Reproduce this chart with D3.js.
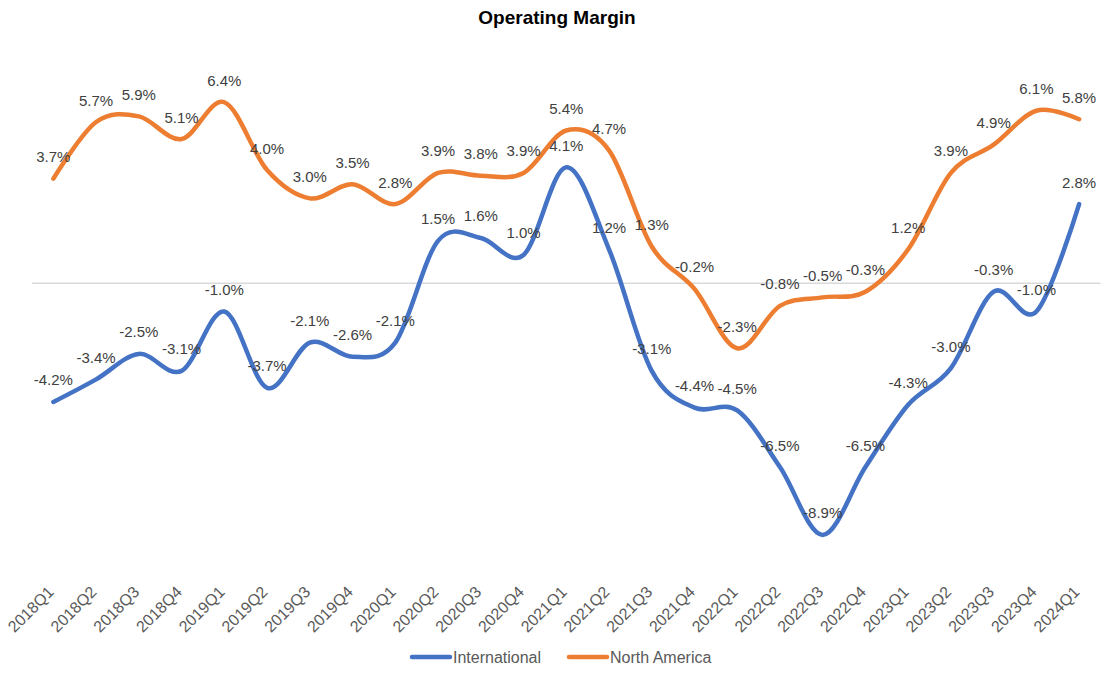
<!DOCTYPE html>
<html>
<head>
<meta charset="utf-8">
<script src="https://cdn.jsdelivr.net/npm/d3@7"></script>
<style>
  html, body { margin: 0; padding: 0; background: #fff; }
  svg { display: block; font-family: Arial, "Liberation Sans", sans-serif; }
</style>
</head>
<body>
<svg id="chart" width="1117" height="673"></svg>
<script>
const categories = ["2018Q1","2018Q2","2018Q3","2018Q4","2019Q1","2019Q2","2019Q3","2019Q4",
  "2020Q1","2020Q2","2020Q3","2020Q4","2021Q1","2021Q2","2021Q3","2021Q4",
  "2022Q1","2022Q2","2022Q3","2022Q4","2023Q1","2023Q2","2023Q3","2023Q4","2024Q1"];
const international = [-4.2,-3.4,-2.5,-3.1,-1.0,-3.7,-2.1,-2.6,-2.1,1.5,1.6,1.0,4.1,1.2,-3.1,-4.4,-4.5,-6.5,-8.9,-6.5,-4.3,-3.0,-0.3,-1.0,2.8];
const northAmerica = [3.7,5.7,5.9,5.1,6.4,4.0,3.0,3.5,2.8,3.9,3.8,3.9,5.4,4.7,1.3,-0.2,-2.3,-0.8,-0.5,-0.3,1.2,3.9,4.9,6.1,5.8];
const seriesNames = ["International", "North America"];
const seriesColors = ["#4472C4", "#ED7D31"];
const yDomain = [-10, 8];

const svg = d3.select("#chart");
const plot = {left: 32, right: 1100.5, top: 57, bottom: 566};

const x = d3.scalePoint().domain(categories).range([plot.left, plot.right]).padding(0.5);
const y = d3.scaleLinear().domain(yDomain).range([plot.bottom, plot.top]);

// title
svg.append("text").attr("x", 557).attr("y", 24).attr("text-anchor", "middle")
  .attr("font-size", 19).attr("font-weight", "bold").attr("fill", "#000").text("Operating Margin");

// zero line
svg.append("line").attr("x1", plot.left).attr("x2", plot.right)
  .attr("y1", y(0)).attr("y2", y(0)).attr("stroke", "#D9D9D9").attr("stroke-width", 1.5);

// category axis labels at bottom
const xAxis = d3.axisBottom(x).tickSize(0).tickPadding(0);
const ax = svg.append("g").attr("transform", `translate(0,${plot.bottom})`).call(xAxis);
ax.select(".domain").remove();
ax.selectAll("text")
  .attr("font-size", 16).attr("fill", "#595959").attr("font-family", "Arial, 'Liberation Sans', sans-serif")
  .attr("text-anchor", "end").attr("dy", null).attr("y", 0)
  .attr("transform", "translate(1,27) rotate(-45)");

const line = d3.line().x((d, i) => x(categories[i])).y(d => y(d)).curve(d3.curveCardinal.tension(0));

const allSeries = [international, northAmerica];
allSeries.forEach((vals, si) => {
  svg.append("path").datum(vals).attr("d", line).attr("fill", "none")
    .attr("stroke", seriesColors[si]).attr("stroke-width", 4.5)
    .attr("stroke-linecap", "round").attr("stroke-linejoin", "round");
});
allSeries.forEach((vals, si) => {
  svg.append("g").selectAll("text").data(vals).join("text")
    .attr("x", (d, i) => x(categories[i]))
    .attr("y", d => y(d) - 16.5)
    .attr("text-anchor", "middle").attr("font-size", 15).attr("fill", "#404040")
    .text(d => d.toFixed(1) + "%");
});

// legend
const legendItems = [{x: 410}, {x: 567}];
legendItems.forEach((it, i) => {
  const g = svg.append("g");
  g.append("line").attr("x1", it.x + 2).attr("x2", it.x + 40).attr("y1", 657).attr("y2", 657)
    .attr("stroke", seriesColors[i]).attr("stroke-width", 4.5).attr("stroke-linecap", "round");
  g.append("text").attr("x", it.x + 43).attr("y", 657).attr("dy", "0.35em")
    .attr("font-size", 16).attr("fill", "#595959").text(seriesNames[i]);
});
</script>
</body>
</html>
